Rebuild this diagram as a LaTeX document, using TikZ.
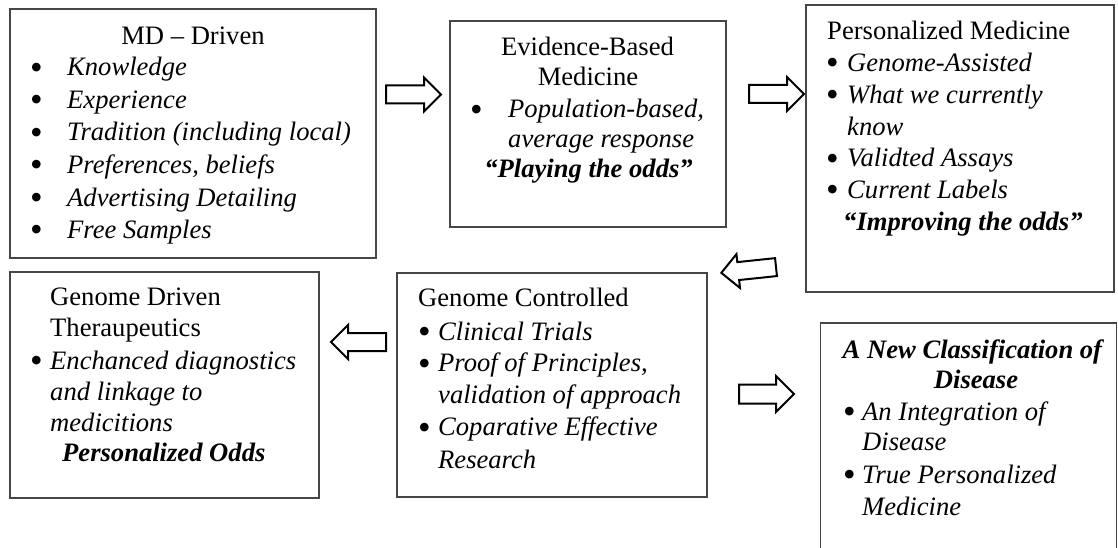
\documentclass[tikz,border=0pt]{standalone}
\usepackage{fontspec}
\setmainfont{Liberation Serif}
\usetikzlibrary{shapes.arrows,fit}
\definecolor{boxgray}{RGB}{70,70,70}
\newcommand\bul{{\fontsize{36}{36}\selectfont\raisebox{-3.3pt}[0pt][0pt]{•}}}
\newcommand\myitem[2]{\makebox[#1][l]{\bul}#2}
\begin{document}
\begin{tikzpicture}[x=1pt,y=-1pt,
  box/.style={draw=boxgray, line width=1.5pt, inner sep=0pt},
  txt/.style={inner sep=0pt, anchor=base west, font=\fontsize{26.6}{31}\selectfont},
  ctxt/.style={txt, anchor=base},
  barrow/.style={draw=black, line width=2pt, fill=white, single arrow,
    single arrow head extend=8pt, inner sep=8pt, minimum height=55pt, anchor=tail}
]
\useasboundingbox (0,0) rectangle (1118,548);
% boxes
\node[box, fit={(10,9) (376,258)}] (b1) {};
\node[box, fit={(450,21) (726,227)}] (b2) {};
\node[box, fit={(806,5) (1114,292)}] (b3) {};
\node[box, fit={(10,272) (319,498)}] (b4) {};
\node[box, fit={(397,273) (707,497)}] (b5) {};
\node[box, fit={(820.5,323) (1116.5,570)}] (b6) {};
% block arrows
\node[barrow] (a1) at (385,94.5) {};
\node[barrow] (a2) at (748,94) {};
\node[barrow, rotate=186] (a3) at (777,267) {};
\node[barrow, rotate=180] (a4) at (387,342) {};
\node[barrow, inner sep=8.5pt, single arrow head extend=8.5pt] (a5) at (738,394) {};
% box 1
\node[ctxt] (t1a) at (193,44.5) {MD – Driven};
\node[txt] (t1b) at (30,76) {\myitem{37pt}{\textit{Knowledge}}};
\node[txt] (t1c) at (30,108.5) {\myitem{37pt}{\textit{Experience}}};
\node[txt] (t1d) at (30,141) {\myitem{37pt}{\textit{Tradition (including local)}}};
\node[txt] (t1e) at (30,173.5) {\myitem{37pt}{\textit{Preferences, beliefs}}};
\node[txt] (t1f) at (30,206) {\myitem{37pt}{\textit{Advertising Detailing}}};
\node[txt] (t1g) at (30,238.5) {\myitem{37pt}{\textit{Free Samples}}};
% box 2
\node[ctxt] (t2a) at (587.5,56) {Evidence-Based};
\node[ctxt] (t2b) at (588,86) {Medicine};
\node[txt] (t2c) at (470,118) {\myitem{38pt}{\textit{Population-based,}}};
\node[txt] (t2d) at (508,148) {\textit{average response}};
\node[ctxt] (t2e) at (588.5,178) {\textbf{\textit{“Playing the odds”}}};
% box 3
\node[txt] (t3a) at (827,40) {Personalized Medicine};
\node[txt] (t3b) at (826,71.7) {\myitem{21pt}{\textit{Genome-Assisted}}};
\node[txt] (t3c) at (826,103.4) {\myitem{21pt}{\textit{What we currently}}};
\node[txt] (t3d) at (847,135.1) {\textit{know}};
\node[txt] (t3e) at (826,166.8) {\myitem{21pt}{\textit{Validted Assays}}};
\node[txt] (t3f) at (826,198.5) {\myitem{21pt}{\textit{Current Labels}}};
\node[txt] (t3g) at (843,230.2) {\textbf{\textit{“Improving the odds”}}};
% box 4
\node[txt] (t4a) at (50,305) {Genome Driven};
\node[txt] (t4b) at (50,336.7) {Theraupeutics};
\node[txt] (t4c) at (30,369) {\myitem{20pt}{\textit{Enchanced diagnostics}}};
\node[txt] (t4d) at (50,400) {\textit{and linkage to}};
\node[txt] (t4e) at (50,431.7) {\textit{medicitions}};
\node[txt] (t4f) at (62,461.7) {\textbf{\textit{Personalized Odds}}};
% box 5
\node[txt] (t5a) at (418,306.7) {Genome Controlled};
\node[txt] (t5b) at (418,340) {\myitem{20pt}{\textit{Clinical Trials}}};
\node[txt] (t5c) at (418,371.7) {\myitem{20pt}{\textit{Proof of Principles,}}};
\node[txt] (t5d) at (438,403.3) {\textit{validation of approach}};
\node[txt] (t5e) at (418,435.7) {\myitem{20pt}{\textit{Coparative Effective}}};
\node[txt] (t5f) at (438,468.3) {\textit{Research}};
% box 6
\node[ctxt] (t6a) at (973.5,358.3) {\textbf{\textit{A New Classification of}}};
\node[ctxt] (t6b) at (976,388.3) {\textbf{\textit{Disease}}};
\node[txt] (t6c) at (843,420) {\myitem{19pt}{\textit{An Integration of}}};
\node[txt] (t6d) at (862,450) {\textit{Disease}};
\node[txt] (t6e) at (843,483.3) {\myitem{19pt}{\textit{True Personalized}}};
\node[txt] (t6f) at (862,515) {\textit{Medicine}};
\end{tikzpicture}
\end{document}
